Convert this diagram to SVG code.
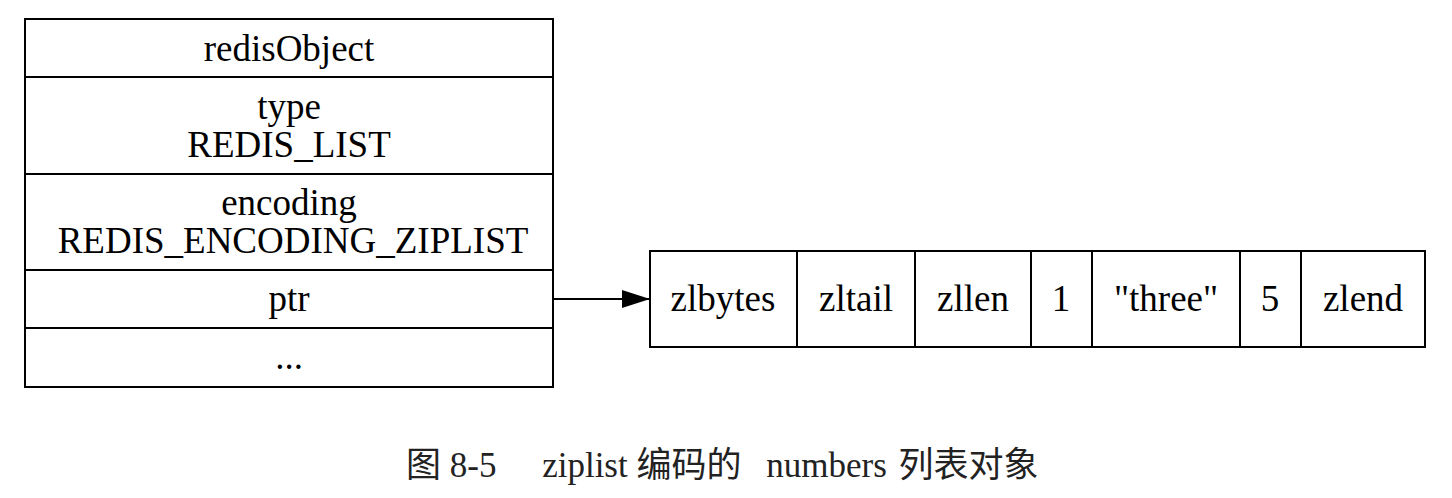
<svg xmlns="http://www.w3.org/2000/svg" width="1452" height="498" viewBox="0 0 1452 498">
<style>
.box{fill:none;stroke:#000;stroke-width:2}
.ln{stroke:#000;stroke-width:2}
.t{font-family:"Liberation Serif","Times New Roman",serif;font-size:37px;text-anchor:middle;fill:#000}
.cap{font-family:"Liberation Serif","Noto Sans CJK SC",serif;font-size:35px;fill:#222}
</style>
<defs>
<marker id="ah" markerWidth="28" markerHeight="20" refX="28" refY="10" orient="auto" markerUnits="userSpaceOnUse">
<polygon points="0,1 28,10 0,19" fill="#000"/>
</marker>
</defs>
<rect width="1452" height="498" fill="#fff"/>
<g id="redisObject">
<rect class="box" x="25" y="19" width="528" height="368"/>
<line class="ln" x1="25" y1="77" x2="553" y2="77"/>
<line class="ln" x1="25" y1="174" x2="553" y2="174"/>
<line class="ln" x1="25" y1="270" x2="553" y2="270"/>
<line class="ln" x1="25" y1="328" x2="553" y2="328"/>
<text class="t" x="289" y="61">redisObject</text>
<text class="t" x="289" y="119">type</text>
<text class="t" x="289" y="157">REDIS_LIST</text>
<text class="t" x="289" y="215">encoding</text>
<text class="t" x="293" y="253">REDIS_ENCODING_ZIPLIST</text>
<text class="t" x="289" y="311">ptr</text>
<text class="t" x="289" y="369">...</text>
</g>
<g id="ziplist">
<rect class="box" x="650" y="251" width="775" height="96"/>
<line class="ln" x1="797" y1="251" x2="797" y2="347"/>
<line class="ln" x1="915" y1="251" x2="915" y2="347"/>
<line class="ln" x1="1031" y1="251" x2="1031" y2="347"/>
<line class="ln" x1="1092" y1="251" x2="1092" y2="347"/>
<line class="ln" x1="1240" y1="251" x2="1240" y2="347"/>
<line class="ln" x1="1301" y1="251" x2="1301" y2="347"/>
<text class="t" x="723" y="311">zlbytes</text>
<text class="t" x="856" y="311">zltail</text>
<text class="t" x="973" y="311">zllen</text>
<text class="t" x="1061" y="311">1</text>
<text class="t" x="1166" y="311">"three"</text>
<text class="t" x="1270" y="311">5</text>
<text class="t" x="1363" y="311">zlend</text>
</g>
<g id="connectors">
<line class="ln" x1="553" y1="299" x2="650" y2="299" marker-end="url(#ah)"/>
</g>
<g id="caption">
<text class="cap" x="406" y="477" xml:space="preserve">图 8-5 <tspan dx="37">ziplist 编码的 </tspan><tspan dx="16">numbers </tspan><tspan dx="3">列表对象</tspan></text>
</g>
</svg>
